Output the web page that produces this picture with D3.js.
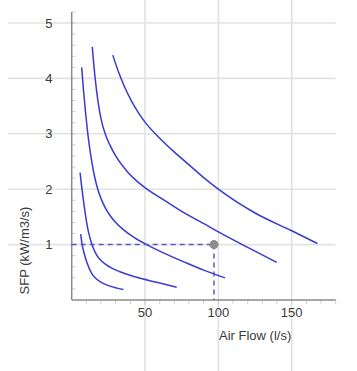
<!DOCTYPE html>
<html>
<head>
<meta charset="utf-8">
<script src="https://cdn.jsdelivr.net/npm/d3@7"></script>
<style>
  html, body { margin: 0; padding: 0; background: #fff; }
  svg { display: block; font-family: "Liberation Sans", Arial, sans-serif; }
</style>
</head>
<body>
<svg id="chart" width="357" height="371"></svg>
<script>
// ---- data ----
const xTicks = [50, 100, 150];
const yTicks = [1, 2, 3, 4, 5];
const xLabel = "Air Flow (l/s)";
const yLabel = "SFP (kW/m3/s)";

const curve1 = [[6.1,1.19],[7.2,0.99],[8.5,0.84],[10.2,0.69],[13.6,0.48],[16,0.40],[19.3,0.33],[26.1,0.25],[35.2,0.19]];
const curve2 = [[5.7,2.30],[7,2.00],[8.5,1.70],[10,1.43],[11.5,1.22],[13.6,1.02],[16,0.86],[19,0.74],[23.9,0.63],[32.9,0.51],[44.3,0.41],[58,0.32],[71.6,0.23]];
const curve3 = [[6.8,4.20],[8,3.80],[9.5,3.37],[11,3.00],[12.5,2.70],[14,2.45],[16,2.18],[18,1.98],[20,1.83],[23,1.66],[26,1.53],[30,1.40],[35.2,1.27],[43,1.12],[51.1,1.00],[62.5,0.85],[77.2,0.68],[90,0.54],[104.5,0.40]];
const curve4 = [[14.0,4.57],[16,4.00],[18,3.57],[20,3.27],[22.7,3.01],[26,2.80],[30,2.60],[37.5,2.33],[48.8,2.05],[62.5,1.81],[76.1,1.58],[92,1.35],[100,1.23],[120,0.95],[139.8,0.68]];
const curve5 = [[28,4.42],[32,4.11],[36,3.85],[40,3.63],[45,3.40],[50,3.21],[60,2.92],[70,2.67],[80,2.44],[90,2.21],[100,2.00],[125,1.57],[150,1.25],[167.5,1.02]];
const curves = [curve1, curve2, curve3, curve4, curve5];

const operatingPoint = [97, 1.0];

// ---- scales ----
const x = d3.scaleLinear().domain([0, 180]).range([71.7, 335.7]);
const y = d3.scaleLinear().domain([0, 5.2]).range([300, 300 - 5.2 * 55.4]);

const svg = d3.select("#chart");

// gridlines
const grid = svg.append("g");
grid.selectAll("line.h").data(yTicks).enter().append("line")
  .attr("x1", 8).attr("x2", x(180))
  .attr("y1", d => y(d)).attr("y2", d => y(d))
  .attr("stroke", "#e2e2e2").attr("stroke-width", 1.6);
grid.selectAll("line.v").data(xTicks).enter().append("line")
  .attr("x1", d => x(d)).attr("x2", d => x(d))
  .attr("y1", 0).attr("y2", 371)
  .attr("stroke", "#e2e2e2").attr("stroke-width", 1.6);

// minor ticks
const xMinor = d3.range(10, 181, 10);
const yMinor = d3.range(1, 27).map(i => i * 0.2);
svg.append("g").selectAll("line").data(xMinor).enter().append("line")
  .attr("x1", d => x(d)).attr("x2", d => x(d))
  .attr("y1", y(0)).attr("y2", y(0) + 4)
  .attr("stroke", "#cfcfcf").attr("stroke-width", 1);
svg.append("g").selectAll("line").data(yMinor).enter().append("line")
  .attr("x1", x(0)).attr("x2", x(0) + 4)
  .attr("y1", d => y(d)).attr("y2", d => y(d))
  .attr("stroke", "#cfcfcf").attr("stroke-width", 1);

// axis lines
svg.append("line")
  .attr("x1", x(0)).attr("x2", x(0)).attr("y1", y(5.2)).attr("y2", y(0))
  .attr("stroke", "#8a8a8a").attr("stroke-width", 1.5);
svg.append("line")
  .attr("x1", x(0)).attr("x2", x(180)).attr("y1", y(0)).attr("y2", y(0))
  .attr("stroke", "#8a8a8a").attr("stroke-width", 1.5);

// tick labels
svg.append("g").selectAll("text").data(yTicks).enter().append("text")
  .attr("x", 52.5).attr("y", d => y(d)).attr("dy", "0.36em")
  .attr("text-anchor", "end").attr("font-size", 13).attr("fill", "#3a3a3a")
  .text(d => d);
svg.append("g").selectAll("text").data(xTicks).enter().append("text")
  .attr("x", d => x(d)).attr("y", 317)
  .attr("text-anchor", "middle").attr("font-size", 13).attr("fill", "#3a3a3a")
  .text(d => d);

// axis titles
svg.append("text")
  .attr("x", 219).attr("y", 339.5)
  .attr("font-size", 13).attr("fill", "#3a3a3a")
  .text(xLabel);
svg.append("text")
  .attr("transform", "translate(28.5,250.5) rotate(-90)")
  .attr("text-anchor", "middle")
  .attr("font-size", 13).attr("fill", "#3a3a3a")
  .text(yLabel);

// curves
const line = d3.line().x(d => x(d[0])).y(d => y(d[1])).curve(d3.curveMonotoneX);
svg.append("g").selectAll("path").data(curves).enter().append("path")
  .attr("d", line)
  .attr("fill", "none").attr("stroke", "#3a3ad2").attr("stroke-width", 1.5);

// operating point guides
const dashColor = "#5858cc";
svg.append("line")
  .attr("x1", x(0)).attr("x2", x(operatingPoint[0]))
  .attr("y1", y(operatingPoint[1])).attr("y2", y(operatingPoint[1]))
  .attr("stroke", dashColor).attr("stroke-width", 1.5).attr("stroke-dasharray", "5,4");
svg.append("line")
  .attr("x1", x(operatingPoint[0])).attr("x2", x(operatingPoint[0]))
  .attr("y1", y(operatingPoint[1])).attr("y2", y(0))
  .attr("stroke", dashColor).attr("stroke-width", 1.5).attr("stroke-dasharray", "5,4");
svg.append("circle")
  .attr("cx", x(operatingPoint[0])).attr("cy", y(operatingPoint[1])).attr("r", 4.5)
  .attr("fill", "#8c8c8c");
</script>
</body>
</html>
